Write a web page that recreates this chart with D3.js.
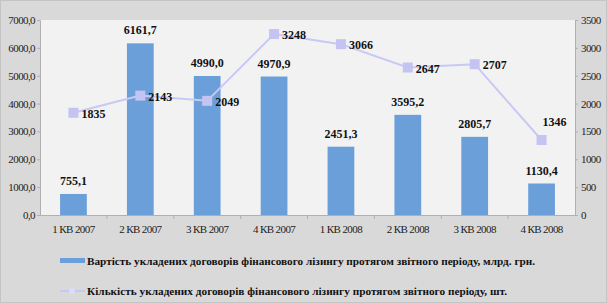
<!DOCTYPE html>
<html><head><meta charset="utf-8">
<script src="https://cdn.jsdelivr.net/npm/d3@7"></script>
<style>body{margin:0;background:#d9d9d9;}svg{display:block;}</style>
</head><body>
<script>
const categories = ["1 КВ 2007","2 КВ 2007","3 КВ 2007","4 КВ 2007","1 КВ 2008","2 КВ 2008","3 КВ 2008","4 КВ 2008"];
const valueSeries = [755.1, 6161.7, 4990.0, 4970.9, 2451.3, 3595.2, 2805.7, 1130.4];
const countSeries = [1835, 2143, 2049, 3248, 3066, 2647, 2707, 1346];
const leftTicks = [0,1000,2000,3000,4000,5000,6000,7000];
const rightTicks = [0,500,1000,1500,2000,2500,3000,3500];
const legendLabels = ["Вартість укладених договорів фінансового лізингу протягом звітного періоду, млрд. грн.",
 "Кількість укладених договорів фінансового лізингу протягом звітного періоду, шт."];

const W=607,H=303;
const m={l:40,r:32,t:20,b:88};
const svg=d3.select("body").append("svg").attr("width",W).attr("height",H);
svg.append("rect").attr("x",0.5).attr("y",0.5).attr("width",W-1).attr("height",H-1).attr("fill","#d9d9d9").attr("stroke","#c4c4c4");
const pw=W-m.l-m.r, ph=H-m.t-m.b;
svg.append("rect").attr("x",m.l).attr("y",m.t).attr("width",pw).attr("height",ph).attr("fill","#f2f2f2");

const x=d3.scaleBand().domain(categories).range([m.l,m.l+pw]).paddingInner(0.6).paddingOuter(0.3);
const yL=d3.scaleLinear().domain([0,7000]).range([m.t+ph,m.t]);
const yR=d3.scaleLinear().domain([0,3500]).range([m.t+ph,m.t]);
const serif="'Liberation Serif','Times New Roman',serif";

// axes
const gl=svg.append("g").attr("transform",`translate(${m.l},0)`)
 .call(d3.axisLeft(yL).tickValues(leftTicks).tickSize(3).tickFormat(d=>d3.format(".1f")(d).replace(".",",")));
const gr=svg.append("g").attr("transform",`translate(${m.l+pw},0)`)
 .call(d3.axisRight(yR).tickValues(rightTicks).tickSize(3).tickFormat(d=>d));
const gx=svg.append("g").attr("transform",`translate(0,${m.t+ph})`)
 .call(d3.axisBottom(x).tickSize(0));
[gl,gr,gx].forEach(g=>{
 g.selectAll("path").attr("stroke","#b0b0b0");
 g.selectAll("line").attr("stroke","#b0b0b0");
 g.selectAll("text").attr("font-family",serif).attr("font-size",11).attr("fill","#222").attr("letter-spacing",-0.6);
});
gl.selectAll("text").attr("x",-5);
gr.selectAll("text").attr("x",6);
gx.selectAll("text").attr("dy","1.35em");
// category separators on x axis
svg.append("g").selectAll("line").data(d3.range(1,categories.length)).join("line")
 .attr("x1",i=>m.l+i*pw/categories.length).attr("x2",i=>m.l+i*pw/categories.length)
 .attr("y1",m.t+ph).attr("y2",m.t+ph+4).attr("stroke","#b0b0b0");

// bars
svg.append("g").selectAll("rect").data(valueSeries).join("rect")
 .attr("x",(d,i)=>x(categories[i])).attr("width",x.bandwidth())
 .attr("y",d=>yL(d)).attr("height",d=>yL(0)-yL(d)).attr("fill","#6b9fd9");
svg.append("g").selectAll("text").data(valueSeries).join("text")
 .attr("x",(d,i)=>x(categories[i])+x.bandwidth()/2).attr("y",d=>yL(d)-9)
 .attr("text-anchor","middle").attr("font-family",serif).attr("font-weight","bold").attr("font-size",12).attr("fill","#111")
 .text(d=>d3.format(".1f")(d).replace(".",","));

// line
const cx=i=>x(categories[i])+x.bandwidth()/2;
const line=d3.line().x((d,i)=>cx(i)).y(d=>yR(d));
svg.append("path").datum(countSeries).attr("d",line).attr("fill","none").attr("stroke","#c8c8f4").attr("stroke-width",2);
svg.append("g").selectAll("rect").data(countSeries).join("rect")
 .attr("x",(d,i)=>cx(i)-5).attr("y",d=>yR(d)-5).attr("width",10).attr("height",10).attr("fill","#c4c4f2");
const last=countSeries.length-1;
svg.append("g").selectAll("text").data(countSeries).join("text")
 .attr("x",(d,i)=>i===last?cx(i)+1:cx(i)+8).attr("y",(d,i)=>i===last?yR(d)-14:yR(d)+5)
 .attr("font-family",serif).attr("font-weight","bold").attr("font-size",12).attr("fill","#111")
 .text(d=>d);

// legend
const lg=svg.append("g");
lg.append("rect").attr("x",60).attr("y",258).attr("width",25).attr("height",5).attr("fill","#6b9fd9");
lg.append("line").attr("x1",60).attr("x2",85).attr("y1",291).attr("y2",291).attr("stroke","#c8c8f4").attr("stroke-width",2);
lg.append("circle").attr("cx",72).attr("cy",291).attr("r",3).attr("fill","#dcdcfa");
const legendLen=[448,420];
lg.selectAll("text").data(legendLabels).join("text")
 .attr("x",87).attr("y",(d,i)=>[265,295][i])
 .attr("font-family",serif).attr("font-weight","bold").attr("font-size",11).attr("fill","#111")
 .attr("textLength",(d,i)=>legendLen[i]).attr("lengthAdjust","spacingAndGlyphs")
 .text(d=>d);
</script>
</body></html>
